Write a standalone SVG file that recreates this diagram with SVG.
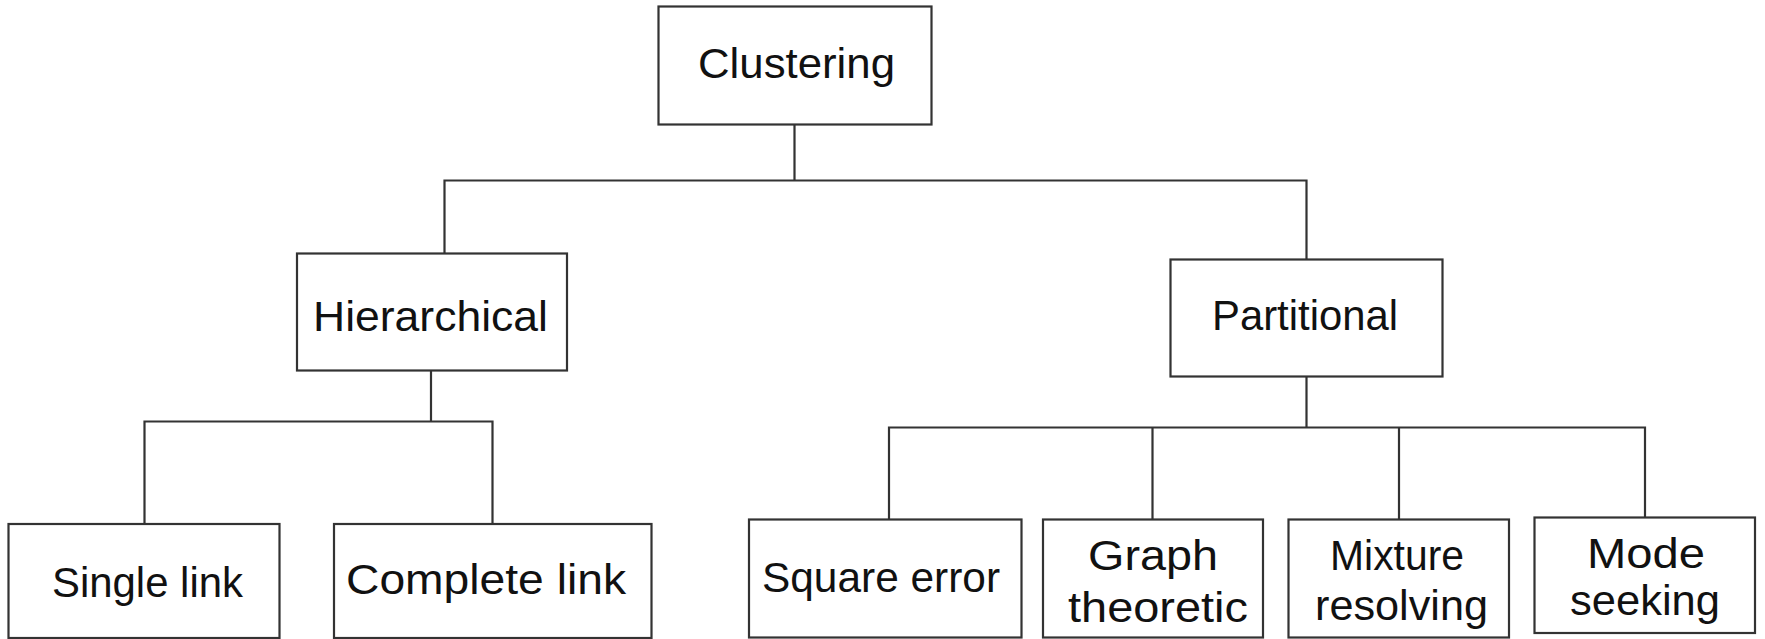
<svg xmlns="http://www.w3.org/2000/svg" width="1765" height="639" viewBox="0 0 1765 639">
<style>
.box{fill:#fff;stroke:#333;stroke-width:2.2}
.conn{fill:none;stroke:#333;stroke-width:2.2}
text{font-family:"Liberation Sans",Arial,sans-serif;font-size:42px;fill:#111}
</style>
<rect width="1765" height="639" fill="#fff"/>
<g id="connectors" class="conn">
<path d="M794.5,124.5V180.5M444.5,253.5V180.5H1306.5V259.5"/>
<path d="M431,370.5V421.5M144.5,524V421.5H492.5V524"/>
<path d="M1306.5,376.5V427.5M889,519.5V427.5H1645V517.5M1152.5,427.5V519.5M1399,427.5V519.5"/>
</g>
<g id="clustering"><rect class="box" x="658.5" y="6.5" width="273" height="118"/><text x="698" y="78" textLength="197" lengthAdjust="spacingAndGlyphs">Clustering</text></g>
<g id="hierarchical"><rect class="box" x="297" y="253.5" width="270" height="117"/><text x="313" y="330.5" textLength="235" lengthAdjust="spacingAndGlyphs">Hierarchical</text></g>
<g id="partitional"><rect class="box" x="1170.5" y="259.5" width="272" height="117"/><text x="1212" y="330" textLength="186" lengthAdjust="spacingAndGlyphs">Partitional</text></g>
<g id="single-link"><rect class="box" x="8.5" y="524" width="271" height="114"/><text x="52" y="597" textLength="191" lengthAdjust="spacingAndGlyphs">Single link</text></g>
<g id="complete-link"><rect class="box" x="334" y="524" width="317.5" height="114"/><text x="346" y="593.5" textLength="280" lengthAdjust="spacingAndGlyphs">Complete link</text></g>
<g id="square-error"><rect class="box" x="749" y="519.5" width="272.5" height="118"/><text x="762" y="591.5" textLength="238" lengthAdjust="spacingAndGlyphs">Square error</text></g>
<g id="graph-theoretic"><rect class="box" x="1043" y="519.5" width="220" height="118"/><text x="1088" y="570" textLength="130" lengthAdjust="spacingAndGlyphs">Graph</text><text x="1068" y="621.5" textLength="180" lengthAdjust="spacingAndGlyphs">theoretic</text></g>
<g id="mixture-resolving"><rect class="box" x="1288.5" y="519.5" width="220.5" height="118"/><text x="1330" y="569.5" textLength="134" lengthAdjust="spacingAndGlyphs">Mixture</text><text x="1315" y="619.5" textLength="173" lengthAdjust="spacingAndGlyphs">resolving</text></g>
<g id="mode-seeking"><rect class="box" x="1534.5" y="517.5" width="220.5" height="115.5"/><text x="1587" y="568" textLength="118" lengthAdjust="spacingAndGlyphs">Mode</text><text x="1570" y="615" textLength="150" lengthAdjust="spacingAndGlyphs">seeking</text></g>
</svg>
